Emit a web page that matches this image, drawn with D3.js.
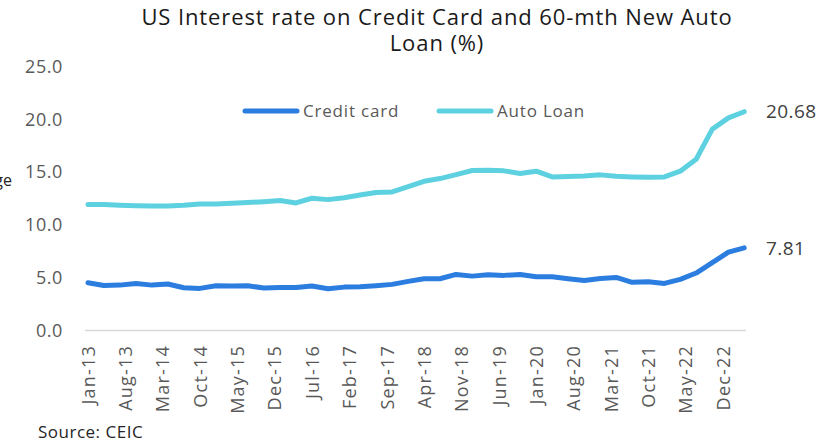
<!DOCTYPE html>
<html>
<head>
<meta charset="utf-8">
<script src="https://cdn.jsdelivr.net/npm/d3@7"></script>
<style>
  html, body { margin: 0; padding: 0; background: #ffffff; }
  svg { display: block; font-family: "Open Sans", Lato, sans-serif; }
</style>
</head>
<body>
<svg id="chart" width="825" height="444"></svg>
<script>
// Quarterly observations, Jan-13 to Apr-23
const periods = [
  "Jan-13","Apr-13","Jul-13","Oct-13","Jan-14","Apr-14","Jul-14","Oct-14",
  "Jan-15","Apr-15","Jul-15","Oct-15","Jan-16","Apr-16","Jul-16","Oct-16",
  "Jan-17","Apr-17","Jul-17","Oct-17","Jan-18","Apr-18","Jul-18","Oct-18",
  "Jan-19","Apr-19","Jul-19","Oct-19","Jan-20","Apr-20","Jul-20","Oct-20",
  "Jan-21","Apr-21","Jul-21","Oct-21","Jan-22","Apr-22","Jul-22","Oct-22",
  "Jan-23","Apr-23"
];
const creditCard = [
  4.52, 4.26, 4.29, 4.45, 4.29, 4.39, 4.04, 3.98, 4.23, 4.20, 4.23, 4.01,
  4.07, 4.07, 4.20, 3.95, 4.10, 4.13, 4.23, 4.36, 4.64, 4.89, 4.89, 5.30,
  5.14, 5.27, 5.21, 5.30, 5.08, 5.08, 4.89, 4.73, 4.92, 5.02, 4.55, 4.61,
  4.45, 4.83, 5.43, 6.41, 7.41, 7.81
];
const autoLoan = [
  11.90, 11.90, 11.84, 11.80, 11.77, 11.77, 11.84, 11.96, 11.96, 12.03, 12.09, 12.18,
  12.28, 12.06, 12.50, 12.37, 12.55, 12.80, 13.05, 13.10, 13.60, 14.10, 14.36, 14.74,
  15.12, 15.15, 15.09, 14.84, 15.06, 14.52, 14.55, 14.61, 14.71, 14.58, 14.52, 14.49,
  14.52, 15.06, 16.19, 19.03, 20.10, 20.68
];
const xTickLabels = [
  "Jan-13","Aug-13","Mar-14","Oct-14","May-15","Dec-15","Jul-16","Feb-17","Sep-17",
  "Apr-18","Nov-18","Jun-19","Jan-20","Aug-20","Mar-21","Oct-21","May-22","Dec-22"
];
const yTicks = [0, 5, 10, 15, 20, 25];
const titleLines = ["US Interest rate on Credit Card and 60-mth New Auto", "Loan (%)"];
const seriesNames = ["Credit card", "Auto Loan"];
const seriesColors = ["#2b7de0", "#5ed1e0"];

const FONT = "'Open Sans', Lato, sans-serif";
const parse = d3.timeParse("%b-%y");
const svg = d3.select("#chart");

const x = d3.scaleTime()
  .domain([parse("Jan-13"), parse("Dec-22")])
  .range([88, 723]);
const y = d3.scaleLinear().domain([0, 25]).range([330.5, 66]);

// Title, two lines
titleLines.forEach((t, i) => {
  svg.append("text")
    .attr("x", 437).attr("y", 25 + i * 26)
    .attr("text-anchor", "middle")
    .attr("fill", "#1a1a1a").attr("font-size", 22)
    .attr("letter-spacing", 0.9)
    .text(t);
});

// Axis title (sits mostly outside the left edge)
svg.append("text")
  .attr("x", 12).attr("y", 186)
  .attr("text-anchor", "end")
  .attr("font-size", 16).attr("fill", "#222")
  .text("Percentage");

// Y axis labels
const yAxis = d3.axisLeft(y).tickValues(yTicks).tickFormat(d3.format(".1f")).tickSize(0).tickPadding(0);
const gy = svg.append("g").attr("transform", "translate(63,0)").call(yAxis);
gy.select(".domain").remove();
gy.selectAll("text")
  .attr("font-family", FONT)
  .attr("font-size", 18).attr("fill", "#595959")
  .attr("letter-spacing", 0.6).attr("dy", "0.34em");

// Baseline
svg.append("line")
  .attr("x1", 85).attr("x2", 746)
  .attr("y1", y(0)).attr("y2", y(0))
  .attr("stroke", "#d9d9d9").attr("stroke-width", 1.5);

// X axis labels, rotated
const xAxis = d3.axisBottom(x)
  .tickValues(xTickLabels.map(parse))
  .tickFormat(d3.timeFormat("%b-%y"))
  .tickSize(0).tickPadding(0);
const gx = svg.append("g").attr("transform", `translate(0,${345})`).call(xAxis);
gx.select(".domain").remove();
gx.selectAll("text")
  .attr("font-family", FONT)
  .attr("font-size", 18).attr("fill", "#595959")
  .attr("letter-spacing", 1.2)
  .attr("transform", "rotate(-90)")
  .attr("text-anchor", "end")
  .attr("x", 0).attr("y", 0).attr("dy", "0.35em");

// Lines
const rows = periods.map((p, i) => ({ date: parse(p), cc: creditCard[i], auto: autoLoan[i] }));
const series = [
  rows.map(r => ({ date: r.date, v: r.cc })),
  rows.map(r => ({ date: r.date, v: r.auto }))
];
const line = d3.line().x(d => x(d.date)).y(d => y(d.v));
series.forEach((s, i) => {
  svg.append("path")
    .datum(s)
    .attr("d", line)
    .attr("fill", "none")
    .attr("stroke", seriesColors[i])
    .attr("stroke-width", 5)
    .attr("stroke-linecap", "round")
    .attr("stroke-linejoin", "round");
});

// End-value labels
series.forEach((s, i) => {
  const last = s[s.length - 1];
  svg.append("text")
    .attr("x", 766).attr("y", y(last.v)).attr("dy", "0.35em")
    .attr("font-size", 19).attr("fill", "#404040")
    .attr("letter-spacing", 0.4)
    .text(d3.format(".2f")(last.v));
});

// Legend
const legendX = [245, 439];
seriesNames.forEach((name, i) => {
  const g = svg.append("g").attr("transform", `translate(${legendX[i]},111)`);
  g.append("line").attr("x1", 0).attr("x2", 52).attr("y1", 0).attr("y2", 0)
    .attr("stroke", seriesColors[i]).attr("stroke-width", 5).attr("stroke-linecap", "round");
  g.append("text").attr("x", 58).attr("y", 0).attr("dy", "0.35em")
    .attr("font-size", 17).attr("fill", "#595959")
    .attr("letter-spacing", 0.8).text(name);
});

// Source note
svg.append("text")
  .attr("x", 38).attr("y", 438)
  .attr("font-size", 17).attr("fill", "#262626")
  .attr("letter-spacing", 0.5)
  .text("Source: CEIC");
</script>
</body>
</html>
